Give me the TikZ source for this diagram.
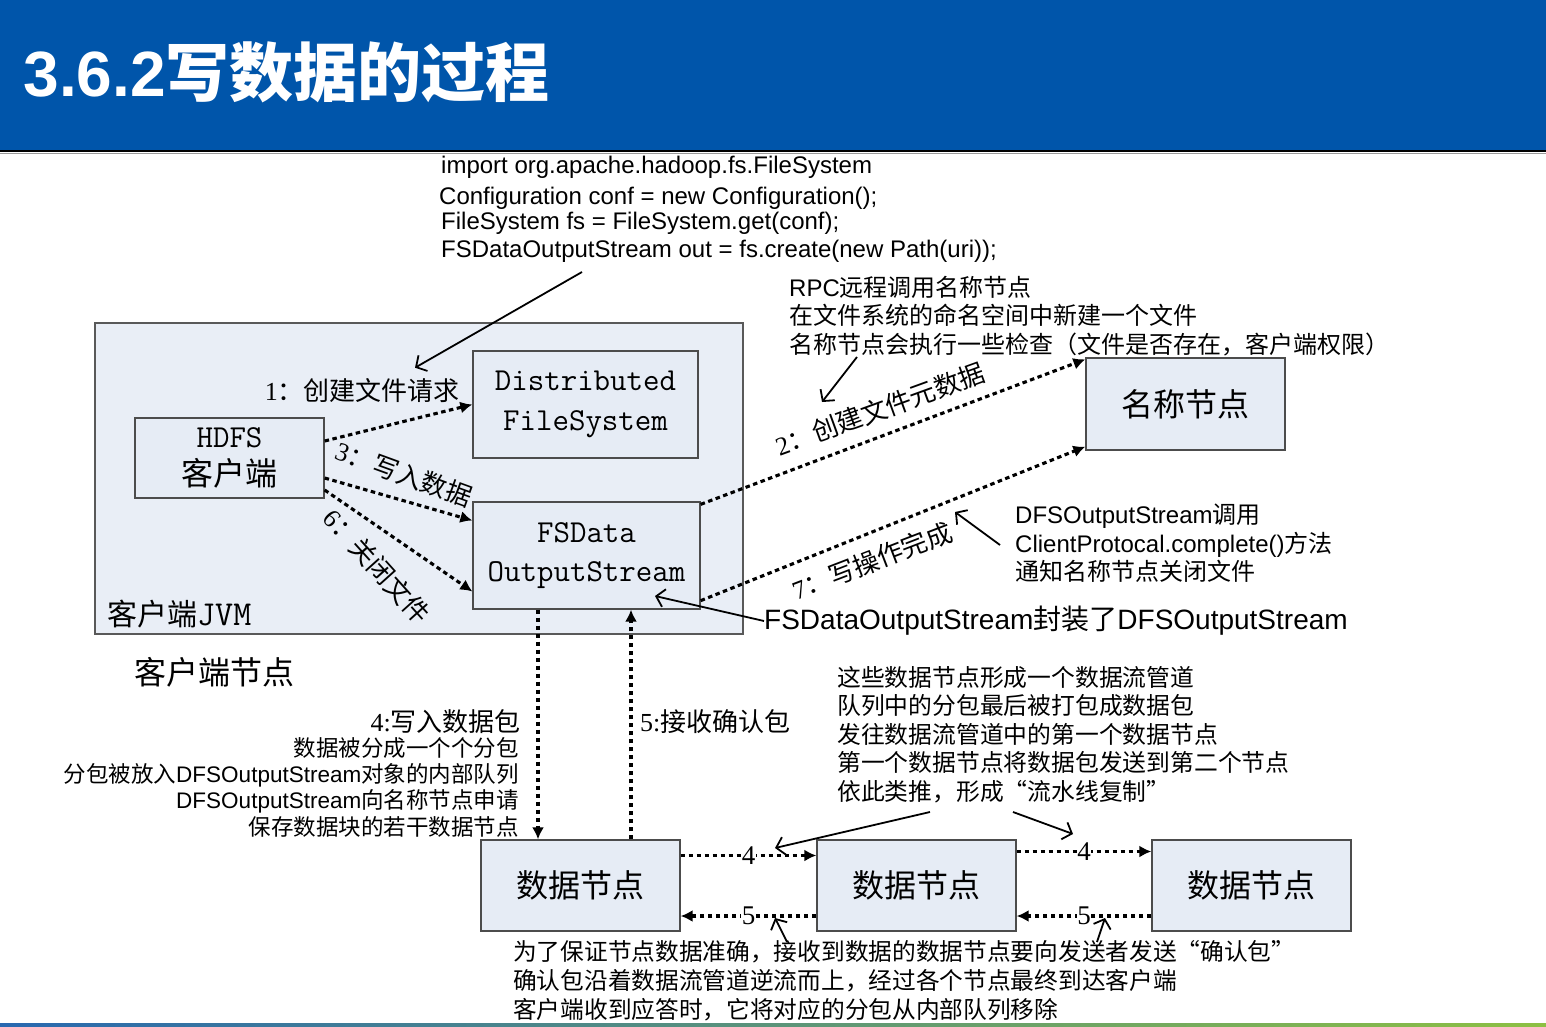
\documentclass[tikz,border=0pt]{standalone}
\usepackage{fontspec}
\setmainfont{Liberation Sans}
\newfontfamily\cjk{Noto Sans CJK SC}
\newfontfamily\arial{Liberation Sans}
\newfontfamily\serifdig{Liberation Serif}
\usepackage{tikz}
\usetikzlibrary{arrows.meta,positioning,calc}

\definecolor{headblue}{HTML}{0055AA}
\definecolor{boxfill}{HTML}{E6ECF5}
\definecolor{jvmfill}{HTML}{E9EEF6}
\definecolor{lineblue}{HTML}{2868B0}
\definecolor{linegreen}{HTML}{8DC043}
\newcommand{\fsz}[2]{\fontsize{#1}{#2}\selectfont}

\begin{document}
\begin{tikzpicture}[x=1pt,y=-1pt,
  box/.style={draw=black!70,line width=1.3pt,fill=boxfill,inner sep=0pt,align=center},
  flow/.style={line width=3.1pt,dash pattern=on 4.5pt off 3.5pt,-{Latex[length=12pt,width=12pt]}},
  note/.style={line width=1.8pt,-{Straight Barb[length=8pt,width=18pt]}},
  lbl/.style={font=\cjk\fsz{26}{30},inner sep=1pt},
  numlbl/.style={font=\serifdig\fsz{27}{28},fill=white,inner sep=0.5pt},
  txt/.style={inner sep=0pt,align=left}]
\useasboundingbox (0,0) rectangle (1546,1027);
% header
\fill[headblue] (0,0) rectangle (1546,150);
\draw[line width=2pt] (0,151) -- (1546,151);
\draw[black!40,line width=0.8pt] (0,153) -- (1546,153);
\node[anchor=west,text=white,font=\bfseries\fsz{64}{70}] (title) at (20,72) {3.6.2{\cjk\bfseries 写数据的过程}};
\shade[left color=lineblue,right color=linegreen] (0,1023) rectangle (1546,1027);
% code
\node[txt,anchor=west,font=\fsz{24}{28}] (code1) at (441,167) {import org.apache.hadoop.fs.FileSystem};
\node[txt,anchor=west,font=\fsz{24}{28}] (code2) at (439,198) {Configuration conf = new Configuration();};
\node[txt,anchor=west,font=\fsz{24}{28}] (code3) at (441,223) {FileSystem fs = FileSystem.get(conf);};
\node[txt,anchor=west,font=\fsz{24}{28}] (code4) at (441,251) {FSDataOutputStream out = fs.create(new Path(uri));};
% client JVM
\node[draw=black!65,line width=1.2pt,fill=jvmfill,minimum width=648pt,minimum height=311pt] (jvm) at (419,478.5) {};
\node[anchor=west,font=\cjk\fsz{30}{34},inner sep=0pt] (jvmlbl) at (107,614) {客户端{\ttfamily\fsz{35}{36}JVM}};
\node[anchor=west,font=\cjk\fsz{32}{36},inner sep=0pt] (clientnode) at (134,672) {客户端节点};
\node[box,minimum width=189pt,minimum height=80pt,font=\ttfamily\fsz{32}{38}] (client) at (229.5,458) {HDFS\\{\cjk\fsz{32}{38}客户端}};
\node[box,minimum width=225pt,minimum height=107pt,font=\ttfamily\fsz{32}{40}] (dfs) at (585.5,404.5) {Distributed\\FileSystem};
\node[box,minimum width=227pt,minimum height=107pt,font=\ttfamily\fsz{32}{39}] (fsout) at (586.5,555.5) {FSData\\OutputStream};
% name node and data nodes
\node[box,minimum width=199pt,minimum height=92pt,font=\cjk\fsz{32}{36}] (namenode) at (1185.5,404) {名称节点};
\node[box,minimum width=199pt,minimum height=91pt,font=\cjk\fsz{32}{36}] (dn1) at (580.5,885.5) {数据节点};
\node[box,minimum width=199pt,minimum height=91pt,font=\cjk\fsz{32}{36}] (dn2) at (916.5,885.5) {数据节点};
\node[box,minimum width=199pt,minimum height=91pt,font=\cjk\fsz{32}{36}] (dn3) at (1251.5,885.5) {数据节点};
% flows
\draw[flow] ([yshift=17pt]client.east) -- (dfs.west);
\draw[flow] ([yshift=-20pt]client.east) -- ([yshift=35pt]fsout.west);
\draw[flow] ([yshift=-32pt]client.east) -- ([yshift=-36pt]fsout.west);
\draw[flow] ([yshift=-3pt]fsout.north east) -- ([yshift=-2pt]namenode.north west);
\draw[flow] ([yshift=9pt]fsout.south east) -- ([yshift=4pt]namenode.south west);
\draw[flow] ([xshift=-48.5pt]fsout.south) -- ([xshift=-48.5pt]fsout.south |- dn1.north);
\draw[flow] ([xshift=44.5pt]fsout.south |- dn1.north) -- ([xshift=44.5pt]fsout.south);
\draw[flow] ([yshift=30pt]dn1.east) -- node[numlbl] (four1) {4} ([yshift=30pt]dn2.west);
\draw[flow] ([yshift=34pt]dn2.east) -- node[numlbl] (four2) {4} ([yshift=34pt]dn3.west);
\draw[flow] ([yshift=-30.5pt]dn2.west) -- node[numlbl] (five1) {5} ([yshift=-30.5pt]dn1.east);
\draw[flow] ([yshift=-30.5pt]dn3.west) -- node[numlbl] (five2) {5} ([yshift=-30.5pt]dn2.east);
% flow labels
\node[lbl,anchor=east] (l1) at (461,391) {{\serifdig 1}：创建文件请求};
\node[lbl,rotate=-20] (l3) at (404,474) {{\serifdig 3}：写入数据};
\node[lbl,rotate=-48] (l6) at (377,566) {{\serifdig 6}：关闭文件};
\node[lbl,rotate=20] (l2) at (880,409) {{\serifdig 2}：创建文件元数据};
\node[lbl,rotate=21] (l7) at (872,561) {{\serifdig 7}：写操作完成};
\node[lbl,anchor=east] (l4) at (522,722) {{\serifdig 4:}写入数据包};
\node[lbl,anchor=west] (l5) at (639,722) {{\serifdig 5:}接收确认包};
% notes
\node[txt,anchor=north west,font=\cjk\fsz{24}{28.5}] (rpcnote) at (789,276)
  {{\arial RPC}远程调用名称节点\\在文件系统的命名空间中新建一个文件\\名称节点会执行一些检查（文件是否存在，客户端权限）};
\node[txt,anchor=north west,font=\cjk\fsz{24}{28.5}] (dfsnote) at (1015,504)
  {{\arial DFSOutputStream}调用\\{\arial ClientProtocal.complete()}方法\\通知名称节点关闭文件};
\node[txt,anchor=west,font=\cjk\fsz{28}{32}] (wrapnote) at (764,621)
  {{\arial FSDataOutputStream}封装了{\arial DFSOutputStream}};
\node[txt,anchor=north east,align=right,font=\cjk\fsz{22.5}{26.3}] (pkgnote) at (519,737)
  {数据被分成一个个分包\\分包被放入{\arial DFSOutputStream}对象的内部队列\\{\arial DFSOutputStream}向名称节点申请\\保存数据块的若干数据节点};
\node[txt,anchor=north west,font=\cjk\fsz{23.8}{28.5}] (pipenote) at (837,666)
  {这些数据节点形成一个数据流管道\\队列中的分包最后被打包成数据包\\发往数据流管道中的第一个数据节点\\第一个数据节点将数据包发送到第二个节点\\依此类推，形成“流水线复制”};
\node[txt,anchor=north west,font=\cjk\fsz{23.7}{29}] (acknote) at (513,940)
  {为了保证节点数据准确，接收到数据的数据节点要向发送者发送“确认包”\\确认包沿着数据流管道逆流而上，经过各个节点最终到达客户端\\客户端收到应答时，它将对应的分包从内部队列移除};
% note arrows
\coordinate (c1) at (582,272);
\coordinate (c2) at (857,357);
\coordinate (c3) at (1000,545);
\coordinate (c4) at (930,812);
\coordinate (c5) at (1013,812);
\coordinate (c6) at (787,942);
\coordinate (c7) at (1097,942);
\draw[note] (c1) -- ([xshift=-46pt,yshift=10pt]l1.north east);
\draw[note] (c2) -- (822,402);
\draw[note] (c3) -- (955,512);
\draw[note] (wrapnote.west) -- (655,596);
\draw[note] (c4) -- (775,848);
\draw[note] (c5) -- (1073,834);
\draw[note] (c6) -- (775,918);
\draw[note] (c7) -- (1105,918);
\end{tikzpicture}
\end{document}
